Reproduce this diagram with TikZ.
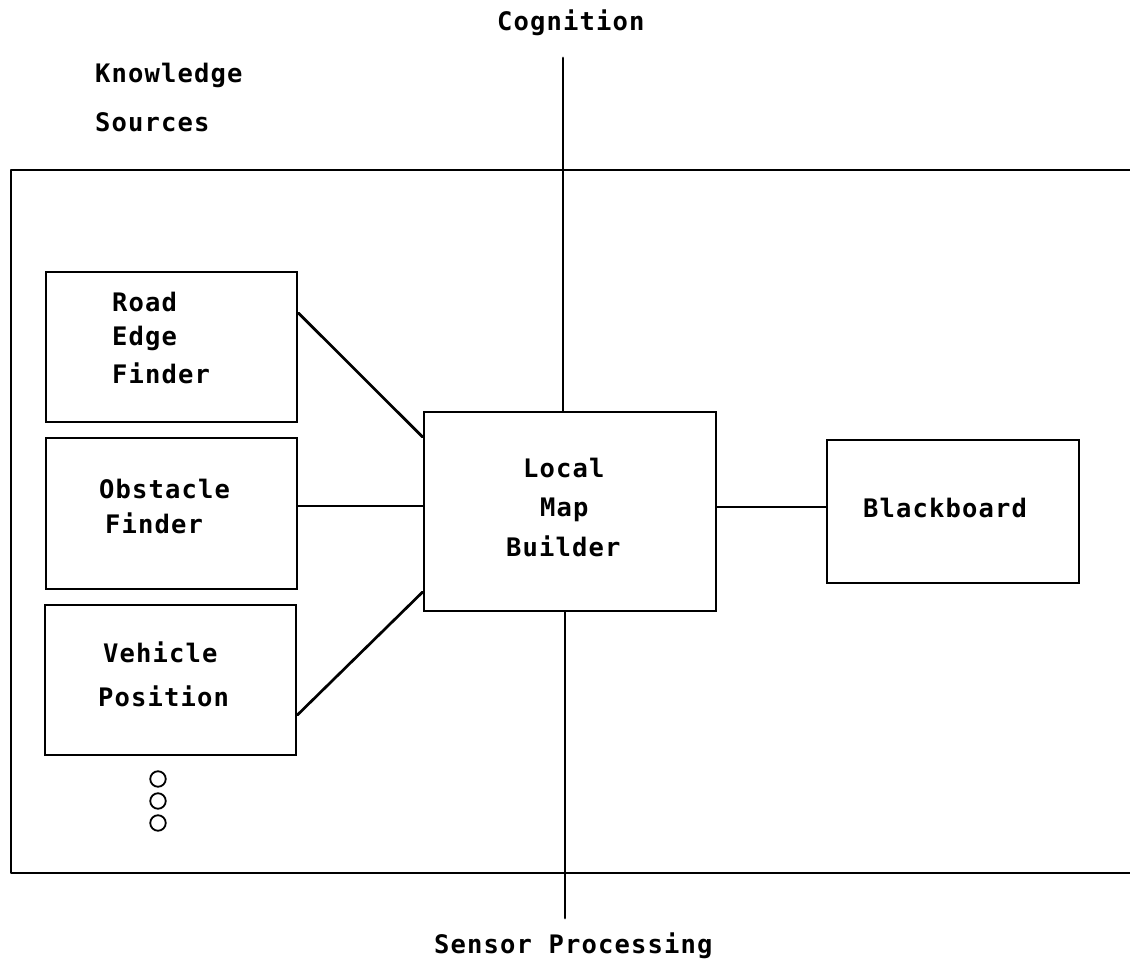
\documentclass[tikz,border=0pt]{standalone}
\usepackage{fontspec}
\newfontfamily\diagfont[LetterSpace=4.5]{DejaVu Sans Mono Bold}
\begin{document}
\begin{tikzpicture}[x=1pt,y=-1pt,
  line/.style={line width=2.7pt,line cap=round,line join=round},
  box/.style={draw,line width=2.7pt,rectangle,inner sep=0pt},
  lbl/.style={anchor=base west,inner sep=0pt,font=\diagfont\fontsize{25.5}{30}\selectfont},
  dot/.style={draw,circle,line width=1.8pt,inner sep=0pt,minimum size=15.5pt}]
\useasboundingbox (0,0) rectangle (1130,963);
% frame
\coordinate (ftr) at (1130,170);
\coordinate (ftl) at (11,170);
\coordinate (fbl) at (11,873);
\coordinate (fbr) at (1130,873);
\draw[line] (ftr) -- (ftl) -- (fbl) -- (fbr);
% boxes
\node[box,minimum width=251pt,minimum height=150pt] (road) at (171.5,347) {};
\node[box,minimum width=251pt,minimum height=151pt] (obst) at (171.5,513.5) {};
\node[box,minimum width=251pt,minimum height=150pt] (veh) at (170.5,680) {};
\node[box,minimum width=292pt,minimum height=199pt] (lmb) at (570,511.5) {};
\node[box,minimum width=252pt,minimum height=143pt] (bb) at (953,511.5) {};
% axis
\coordinate (cogtop) at (563,58);
\coordinate (sensbot) at (565,918);
\draw[line] (cogtop) -- (lmb.north -| cogtop);
\draw[line] (lmb.south -| sensbot) -- (sensbot);
% connectors
\draw[line] (road.east |- 0,313) -- (lmb.west |- 0,437);
\draw[line] (obst.east |- 0,506) -- (lmb.west |- 0,506);
\draw[line] (veh.east |- 0,715) -- (lmb.west |- 0,592);
\draw[line] (lmb.east |- 0,507) -- (bb.west |- 0,507);
% dots
\node[dot] (d1) at (158,779) {};
\node[dot] (d2) at (158,801) {};
\node[dot] (d3) at (158,823) {};
% labels
\node[lbl] (tcog) at (497,31) {Cognition};
\node[lbl] (tks1) at (95,83) {Knowledge};
\node[lbl] (tks2) at (95,132) {Sources};
\node[lbl] (tr1) at (112,311) {Road};
\node[lbl] (tr2) at (112,345) {Edge};
\node[lbl] (tr3) at (112,383) {Finder};
\node[lbl] (to1) at (99,498) {Obstacle};
\node[lbl] (to2) at (105,533) {Finder};
\node[lbl] (tv1) at (103,662) {Vehicle};
\node[lbl] (tv2) at (98,706) {Position};
\node[lbl] (tl1) at (523,477) {Local};
\node[lbl] (tl2) at (540,516) {Map};
\node[lbl] (tl3) at (506,556) {Builder};
\node[lbl] (tbb) at (863,517) {Blackboard};
\node[lbl] (tsp) at (434,953) {Sensor Processing};
\end{tikzpicture}
\end{document}
